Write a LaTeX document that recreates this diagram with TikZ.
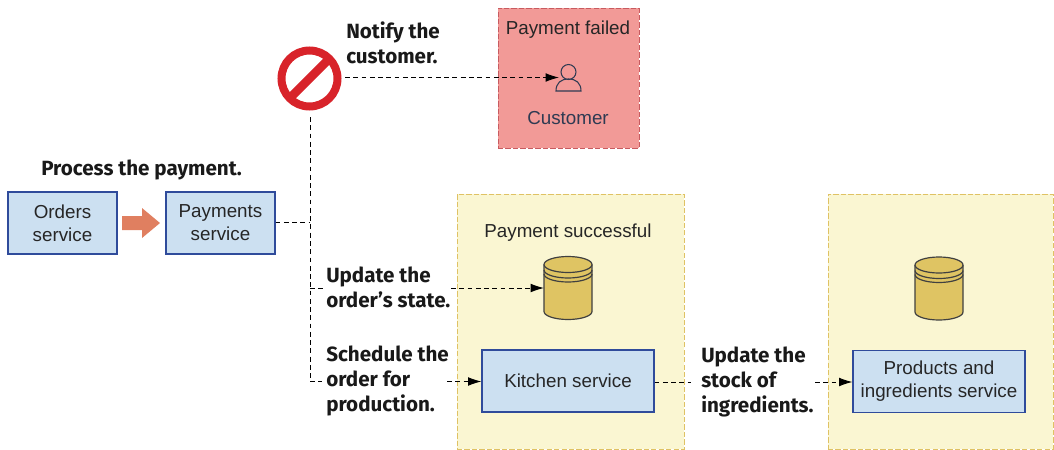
\documentclass[tikz,border=0pt]{standalone}
\usepackage{fontspec}
\setmainfont{Liberation Sans}
\newfontfamily\labfont{Fira Sans}
\usetikzlibrary{arrows.meta}
\definecolor{boxblue}{HTML}{CCE0F1}
\definecolor{boxedge}{HTML}{2F4B9B}
\definecolor{zoneyellow}{HTML}{FAF6D2}
\definecolor{zoneedge}{HTML}{DFC264}
\definecolor{zonered}{HTML}{F29A97}
\definecolor{rededge}{HTML}{C85B60}
\definecolor{dbfill}{HTML}{DFC463}
\definecolor{dbedge}{HTML}{404040}
\definecolor{flow}{HTML}{E07F60}
\definecolor{stopred}{HTML}{D8232A}
\definecolor{inkblue}{HTML}{2E3A52}
\tikzset{
  x=0.75pt,y=-0.75pt,
  svc/.style={draw=boxedge,fill=boxblue,line width=0.8pt,inner sep=0pt,align=center,font=\fontsize{14.1}{17.2}\selectfont,text=black!85},
  zone/.style={draw=#1,dash pattern=on 4pt off 1.6pt,line width=0.6pt},
  lab/.style={anchor=west,inner sep=0pt,align=left,font=\labfont\bfseries\fontsize{15.45}{18.75}\selectfont,text=black!90},
  plaintxt/.style={inner sep=0pt,font=\fontsize{14.1}{16}\selectfont,text=black!85},
  dashline/.style={draw=black,line width=0.7pt,dash pattern=on 3.6pt off 2.6pt},
  dasharrow/.style={dashline,-{Latex[length=10pt,width=6.5pt,sharp]}},
  ghost/.style={inner sep=0pt,outer sep=0pt},
}
\newcommand{\dbicon}[3]{%
  \node[ghost,minimum width=36pt,minimum height=47.25pt] (#1) at (#2,#3) {};
  \begin{scope}[shift={(#2,#3)}]
    \draw[fill=dbfill,draw=dbedge,line width=0.9pt] (-24,-23.5) -- (-24,23.5) arc[start angle=180,end angle=360,x radius=24,y radius=-8] -- (24,-23.5);
    \draw[fill=dbfill,draw=dbedge,line width=0.9pt] (0,-23.5) ellipse[x radius=24,y radius=8];
    \draw[draw=dbedge,line width=0.9pt] (-24,-18) arc[start angle=180,end angle=360,x radius=24,y radius=-8];
    \draw[draw=dbedge,line width=0.9pt] (-24,-14) arc[start angle=180,end angle=360,x radius=24,y radius=-8];
  \end{scope}}
\begin{document}
\begin{tikzpicture}
\useasboundingbox (0,0) rectangle (1054,450);
% zones
\node[zone=rededge,fill=zonered,minimum width=105.75pt,minimum height=105pt,ghost] (failed) at (568.5,78) {};
\node[zone=zoneedge,fill=zoneyellow,minimum width=170.25pt,minimum height=191.25pt,ghost] (zonea) at (570.5,321.5) {};
\node[zone=zoneedge,fill=zoneyellow,minimum width=168.75pt,minimum height=191.25pt,ghost] (zoneb) at (940.5,321.5) {};
\node[plaintxt] (failedtxt) at (568,30) {Payment failed};
\node[plaintxt,text=inkblue] (custtxt) at (568,118) {Customer};
\node[plaintxt] (oktxt) at (568,232.5) {Payment successful};
% services
\node[svc,minimum width=81.75pt,minimum height=46.5pt] (orders) at (62.5,223) {Orders\\service};
\node[svc,minimum width=81.75pt,minimum height=46.5pt] (payments) at (220.5,223) {Payments\\service};
\node[svc,minimum width=129pt,minimum height=46.5pt] (kitchen) at (568,381) {Kitchen service};
\node[svc,minimum width=129pt,minimum height=46.5pt] (products) at (939,381.5) {Products and\\ingredients service};
% block arrow
\fill[flow] (122,216) -- (142,216) -- (142,208) -- (160,223) -- (142,238) -- (142,230) -- (122,230) -- cycle;
% stop sign
\node[ghost,circle,draw=stopred,line width=6pt,minimum size=42pt] (stopsign) at (309.5,78.5) {};
\draw[stopred,line width=6.4pt] (stopsign.45) -- (stopsign.225);
% person
\node[ghost,minimum width=14.25pt,minimum height=24pt] (person) at (568.5,78) {};
\draw[draw=inkblue,line width=0.8pt] (568.5,72) circle[radius=7.5];
\draw[draw=inkblue,line width=0.8pt] (556,91) .. controls (556,83) and (561,79) .. (568.5,79) .. controls (576,79) and (581,83) .. (581,91) -- cycle;
% databases
\dbicon{dba}{568}{288}
\dbicon{dbb}{939}{288.5}
% labels
\node[lab,anchor=south west] (l1) at (41,180.5) {Process the payment.};
\node[lab] (l2) at (346,43) {Notify the\\customer.};
\node[lab] (l3) at (326,287.5) {Update the\\order’s state.};
\node[lab] (l4) at (326,381) {Schedule the\\order for\\production.};
\node[lab] (l5) at (701,382) {Update the\\stock of\\ingredients.};
% connectors
\coordinate (trunktop) at (310,117);
\coordinate (trunka) at (310,222);
\coordinate (trunkb) at (310,288);
\coordinate (trunkc) at (310,381.5);
\coordinate (n1) at (345,77.5);
\coordinate (u1) at (324,288);
\coordinate (u2) at (451,288);
\coordinate (s1) at (322,381.5);
\coordinate (s2) at (447,381.5);
\coordinate (k2) at (691,382);
\coordinate (k3) at (815,382);
\draw[dasharrow] (n1) -- (person.west |- n1);
\draw[dashline] (payments.east |- trunka) -- (trunka);
\draw[dashline] (trunktop) -- (trunkc) -- (s1);
\draw[dashline] (trunkb) -- (u1);
\draw[dasharrow] (u2) -- (dba.west |- u2);
\draw[dasharrow] (s2) -- (kitchen.west |- s2);
\draw[dashline] (kitchen.east |- k2) -- (k2);
\draw[dasharrow] (k3) -- (products.west |- k3);
\end{tikzpicture}
\end{document}
